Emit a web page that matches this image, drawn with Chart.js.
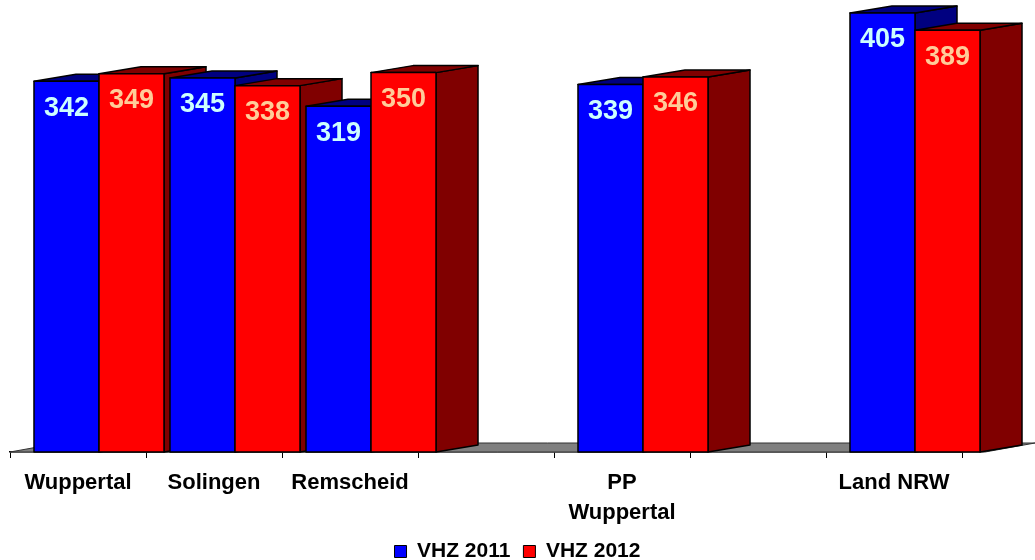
<!DOCTYPE html>
<html>
<head>
<meta charset="utf-8">
<script src="https://cdn.jsdelivr.net/npm/chart.js@4.4.1/dist/chart.umd.min.js"></script>
<style>
  html, body { margin: 0; padding: 0; background: #fff; }
  #wrap { width: 1035px; height: 560px; }
</style>
</head>
<body>
<div id="wrap"><canvas id="chartContainer"></canvas></div>
<script>
// categories (two empty slots keep the gaps of the original chart)
var categories = ['Wuppertal', 'Solingen', 'Remscheid', '', ['PP', 'Wuppertal'], '', 'Land NRW']
var vhz2011 = [342, 345, 319, null, 339, null, 405]
var vhz2012 = [349, 338, 350, null, 346, null, 389]
var seriesNames = ['VHZ 2011', 'VHZ 2012']

var frontColors = ['#0000FF', '#FF0000']
var darkColors = ['#000080', '#800000']
var valueColors = ['#CCFFFF', '#FFCC99']
var depthX = 42, depthY = -7
var fontFam = '"Liberation Sans", Arial, sans-serif'

// draws floor + 3d bars instead of the flat ones
var bars3d = {
  id: 'bars3d',
  beforeDatasetsDraw: function (chart) {
    var ctx = chart.ctx
    var area = chart.chartArea
    ctx.save()
    ctx.lineJoin = 'round'

    // floor
    var fl = area.left, fr = area.right + 23, fb = area.bottom
    ctx.beginPath()
    ctx.moveTo(fl, fb)
    ctx.lineTo(fr, fb)
    ctx.lineTo(fr + 50, fb - 9)
    ctx.lineTo(fl + 50, fb - 9)
    ctx.closePath()
    ctx.fillStyle = '#808080'
    ctx.fill()
    ctx.strokeStyle = '#333'
    ctx.lineWidth = 1
    ctx.stroke()

    var shift = depthX / 2
    var n = chart.data.labels.length
    for (var i = 0; i < n; i++) {
      for (var d = 0; d < chart.data.datasets.length; d++) {
        var val = chart.data.datasets[d].data[i]
        if (val == null) continue
        var el = chart.getDatasetMeta(d).data[i]
        var x0 = el.x - el.width / 2 + shift
        var x1 = el.x + el.width / 2 + shift
        var y0 = el.y
        var yb = el.base

        ctx.lineWidth = 1.5
        ctx.strokeStyle = '#000'

        // side
        ctx.beginPath()
        ctx.moveTo(x1, y0)
        ctx.lineTo(x1 + depthX, y0 + depthY)
        ctx.lineTo(x1 + depthX, yb + depthY)
        ctx.lineTo(x1, yb)
        ctx.closePath()
        ctx.fillStyle = darkColors[d]
        ctx.fill()
        ctx.stroke()

        // top
        ctx.beginPath()
        ctx.moveTo(x0, y0)
        ctx.lineTo(x0 + depthX, y0 + depthY)
        ctx.lineTo(x1 + depthX, y0 + depthY)
        ctx.lineTo(x1, y0)
        ctx.closePath()
        ctx.fill()
        ctx.stroke()

        // front
        ctx.fillStyle = frontColors[d]
        ctx.fillRect(x0, y0, x1 - x0, yb - y0)
        ctx.strokeRect(x0, y0, x1 - x0, yb - y0)

        // value
        ctx.fillStyle = valueColors[d]
        ctx.font = 'bold 27px ' + fontFam
        ctx.textAlign = 'center'
        ctx.textBaseline = 'middle'
        ctx.fillText(String(val), (x0 + x1) / 2, y0 + 27)
      }
    }
    ctx.restore()
    return false
  }
}

new Chart(document.getElementById('chartContainer'), {
  type: 'bar',
  data: {
    labels: categories,
    datasets: [
      { label: seriesNames[0], data: vhz2011, backgroundColor: frontColors[0], borderColor: '#000', borderWidth: 1 },
      { label: seriesNames[1], data: vhz2012, backgroundColor: frontColors[1], borderColor: '#000', borderWidth: 1 }
    ]
  },
  plugins: [bars3d],
  options: {
    responsive: true,
    maintainAspectRatio: false,
    animation: false,
    datasets: { bar: { categoryPercentage: 0.956, barPercentage: 1 } },
    layout: { padding: { top: 0, left: 0, right: 0, bottom: -12 } },
    scales: {
      x: {
        grid: { display: true, offset: true, drawOnChartArea: false, drawTicks: true, tickLength: 6, color: '#000', lineWidth: 1 },
        border: { display: true, color: '#000', width: 1.5 },
        ticks: {
          color: '#000',
          padding: 10,
          maxRotation: 0,
          autoSkip: false,
          font: { family: fontFam, size: 22, weight: 'bold', lineHeight: 1.36 }
        },
        afterFit: function (s) { s.height = 76 }
      },
      y: {
        display: true, position: 'left', min: 0, max: 417,
        ticks: { display: false }, grid: { display: false }, border: { display: false },
        afterFit: function (s) { s.width = 10 }
      },
      yRight: {
        type: 'linear', display: true, position: 'right',
        ticks: { display: false }, grid: { display: false }, border: { display: false },
        afterFit: function (s) { s.width = 73 }
      }
    },
    plugins: {
      legend: {
        position: 'bottom',
        labels: {
          color: '#000',
          boxWidth: 12,
          boxHeight: 12,
          padding: 13,
          font: { family: fontFam, size: 21, weight: 'bold' }
        }
      },
      tooltip: { enabled: false }
    }
  }
})
</script>
</body>
</html>
